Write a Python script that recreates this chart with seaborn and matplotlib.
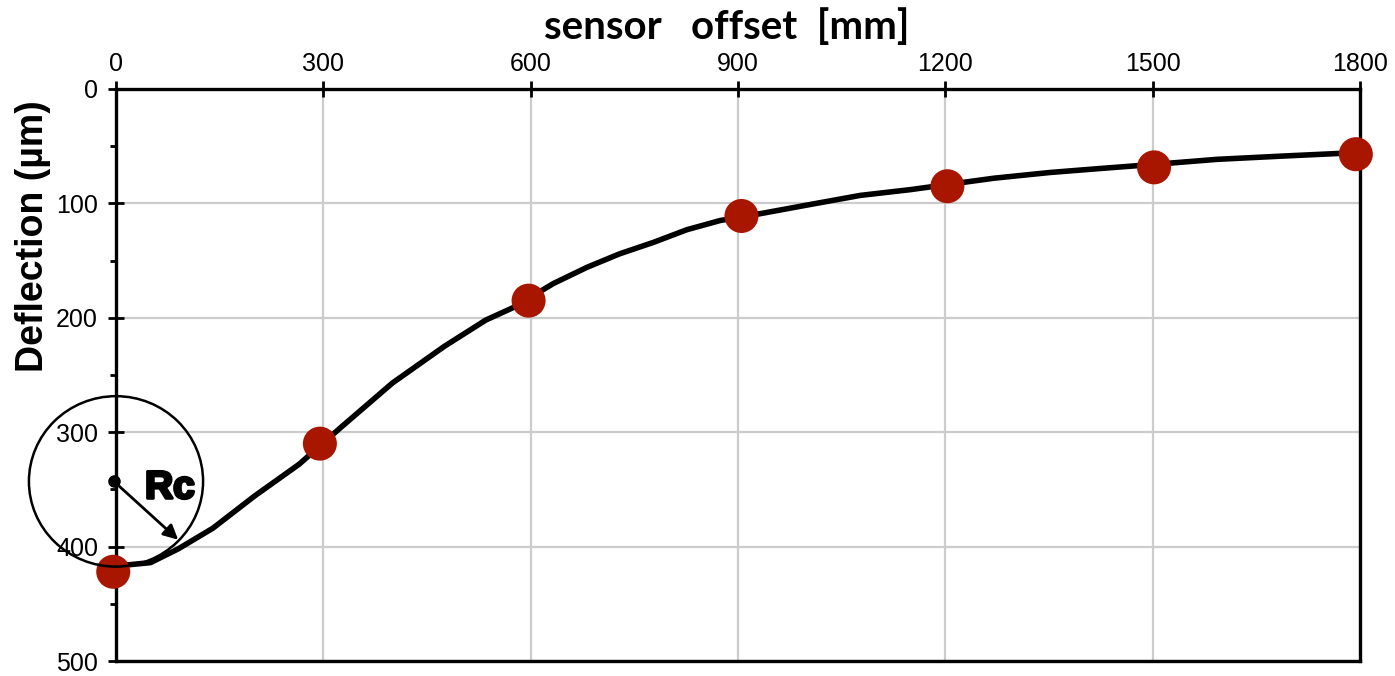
import matplotlib
matplotlib.use("Agg")
import matplotlib.pyplot as plt
import matplotlib.patheffects as pe
from matplotlib.patches import Ellipse
import seaborn as sns
import pandas as pd

# ---- data ----
curve_x = [0, 50, 90, 140, 200, 265, 325, 400, 475, 535, 575, 633, 681, 729, 778,
           826, 874, 932, 1004, 1077, 1149, 1270, 1351, 1424, 1500, 1593, 1689, 1771, 1800]
curve_y = [417, 414, 402, 384, 356, 328, 296, 257, 225, 202, 191, 170, 156, 144, 134,
           123, 115, 109, 101, 93, 88, 78, 73, 69.5, 66, 61.5, 58.6, 56.3, 55.5]
sensor_x = [-4, 295, 597, 905, 1203, 1502, 1794]
sensor_y = [422, 310, 185, 111, 85, 68.5, 57]
x_ticks = [0, 300, 600, 900, 1200, 1500, 1800]
y_ticks = [0, 100, 200, 300, 400, 500]
y_minor = [50, 150, 250, 350, 450]

curve = pd.DataFrame({"offset": curve_x, "deflection": curve_y})
sensors = pd.DataFrame({"offset": sensor_x, "deflection": sensor_y})

sns.set_theme(style="white")
plt.rcParams["font.family"] = ["Liberation Sans", "DejaVu Sans"]
plt.rcParams["text.color"] = "black"
plt.rcParams["axes.labelcolor"] = "black"
plt.rcParams["xtick.color"] = "black"
plt.rcParams["ytick.color"] = "black"

fig = plt.figure(figsize=(13.95, 6.76), dpi=100)
ax = fig.add_axes([116 / 1395, 1 - 661 / 676, (1360 - 116) / 1395, (661 - 89) / 676])

sns.lineplot(data=curve, x="offset", y="deflection", ax=ax, color="black",
             linewidth=4.0, sort=False, zorder=3)
sns.scatterplot(data=sensors, x="offset", y="deflection", ax=ax, color="#A81600",
                s=600, edgecolor="none", zorder=4, clip_on=False)

ax.set_xlim(0, 1800)
ax.set_ylim(500, 0)
ax.xaxis.tick_top()
ax.xaxis.set_label_position("top")
ax.set_xticks(x_ticks)
ax.set_yticks(y_ticks)
ax.set_yticks(y_minor, minor=True)
ax.set_xticklabels([str(v) for v in x_ticks])
ax.set_yticklabels([str(v) for v in y_ticks])

ax.grid(True, which="major", color="#cccccc", linewidth=1.6, zorder=0)
ax.set_axisbelow(True)
for s in ax.spines.values():
    s.set_visible(True)
    s.set_color("black")
    s.set_linewidth(2.4)

ax.tick_params(axis="x", which="major", direction="inout", length=11, width=2,
               labelsize=18, pad=4, top=True, bottom=False, labelcolor="black")
ax.tick_params(axis="y", which="major", direction="inout", length=12, width=2,
               labelsize=18, pad=7, left=True, labelcolor="black")
ax.tick_params(axis="y", which="minor", direction="out", length=4, width=2, left=True)

ax.set_xlabel("sensor   offset  [mm]", fontsize=29, fontweight="bold",
              family=["Lato", "DejaVu Sans"], color="black")
ax.xaxis.set_label_coords(0.491, 1.108)
ax.xaxis.label.set_va("center")

ax.set_ylabel("Deflection (µm)", fontsize=27, fontweight="bold", color="black")
ax.yaxis.set_label_coords(-0.067, 0.742)
ax.yaxis.label.set_va("center")

# curvature-radius annotation
circ = Ellipse((0, 343), width=252, height=149, fill=False, edgecolor="black",
               linewidth=1.8, clip_on=False, zorder=5)
ax.add_patch(circ)
ax.plot([-3], [343], marker="o", color="black", markersize=8, clip_on=False, zorder=6)
ax.annotate("", xy=(90, 394), xytext=(-3, 343),
            arrowprops=dict(arrowstyle="-|>", color="black", lw=2.0,
                            mutation_scale=22, shrinkA=0, shrinkB=0),
            zorder=6, annotation_clip=False)
ax.text(78, 349, "Rc", fontsize=28, fontweight="bold", ha="center", va="center",
        zorder=6, path_effects=[pe.withStroke(linewidth=2.2, foreground="black")])

fig.savefig("out.png", dpi=100)
